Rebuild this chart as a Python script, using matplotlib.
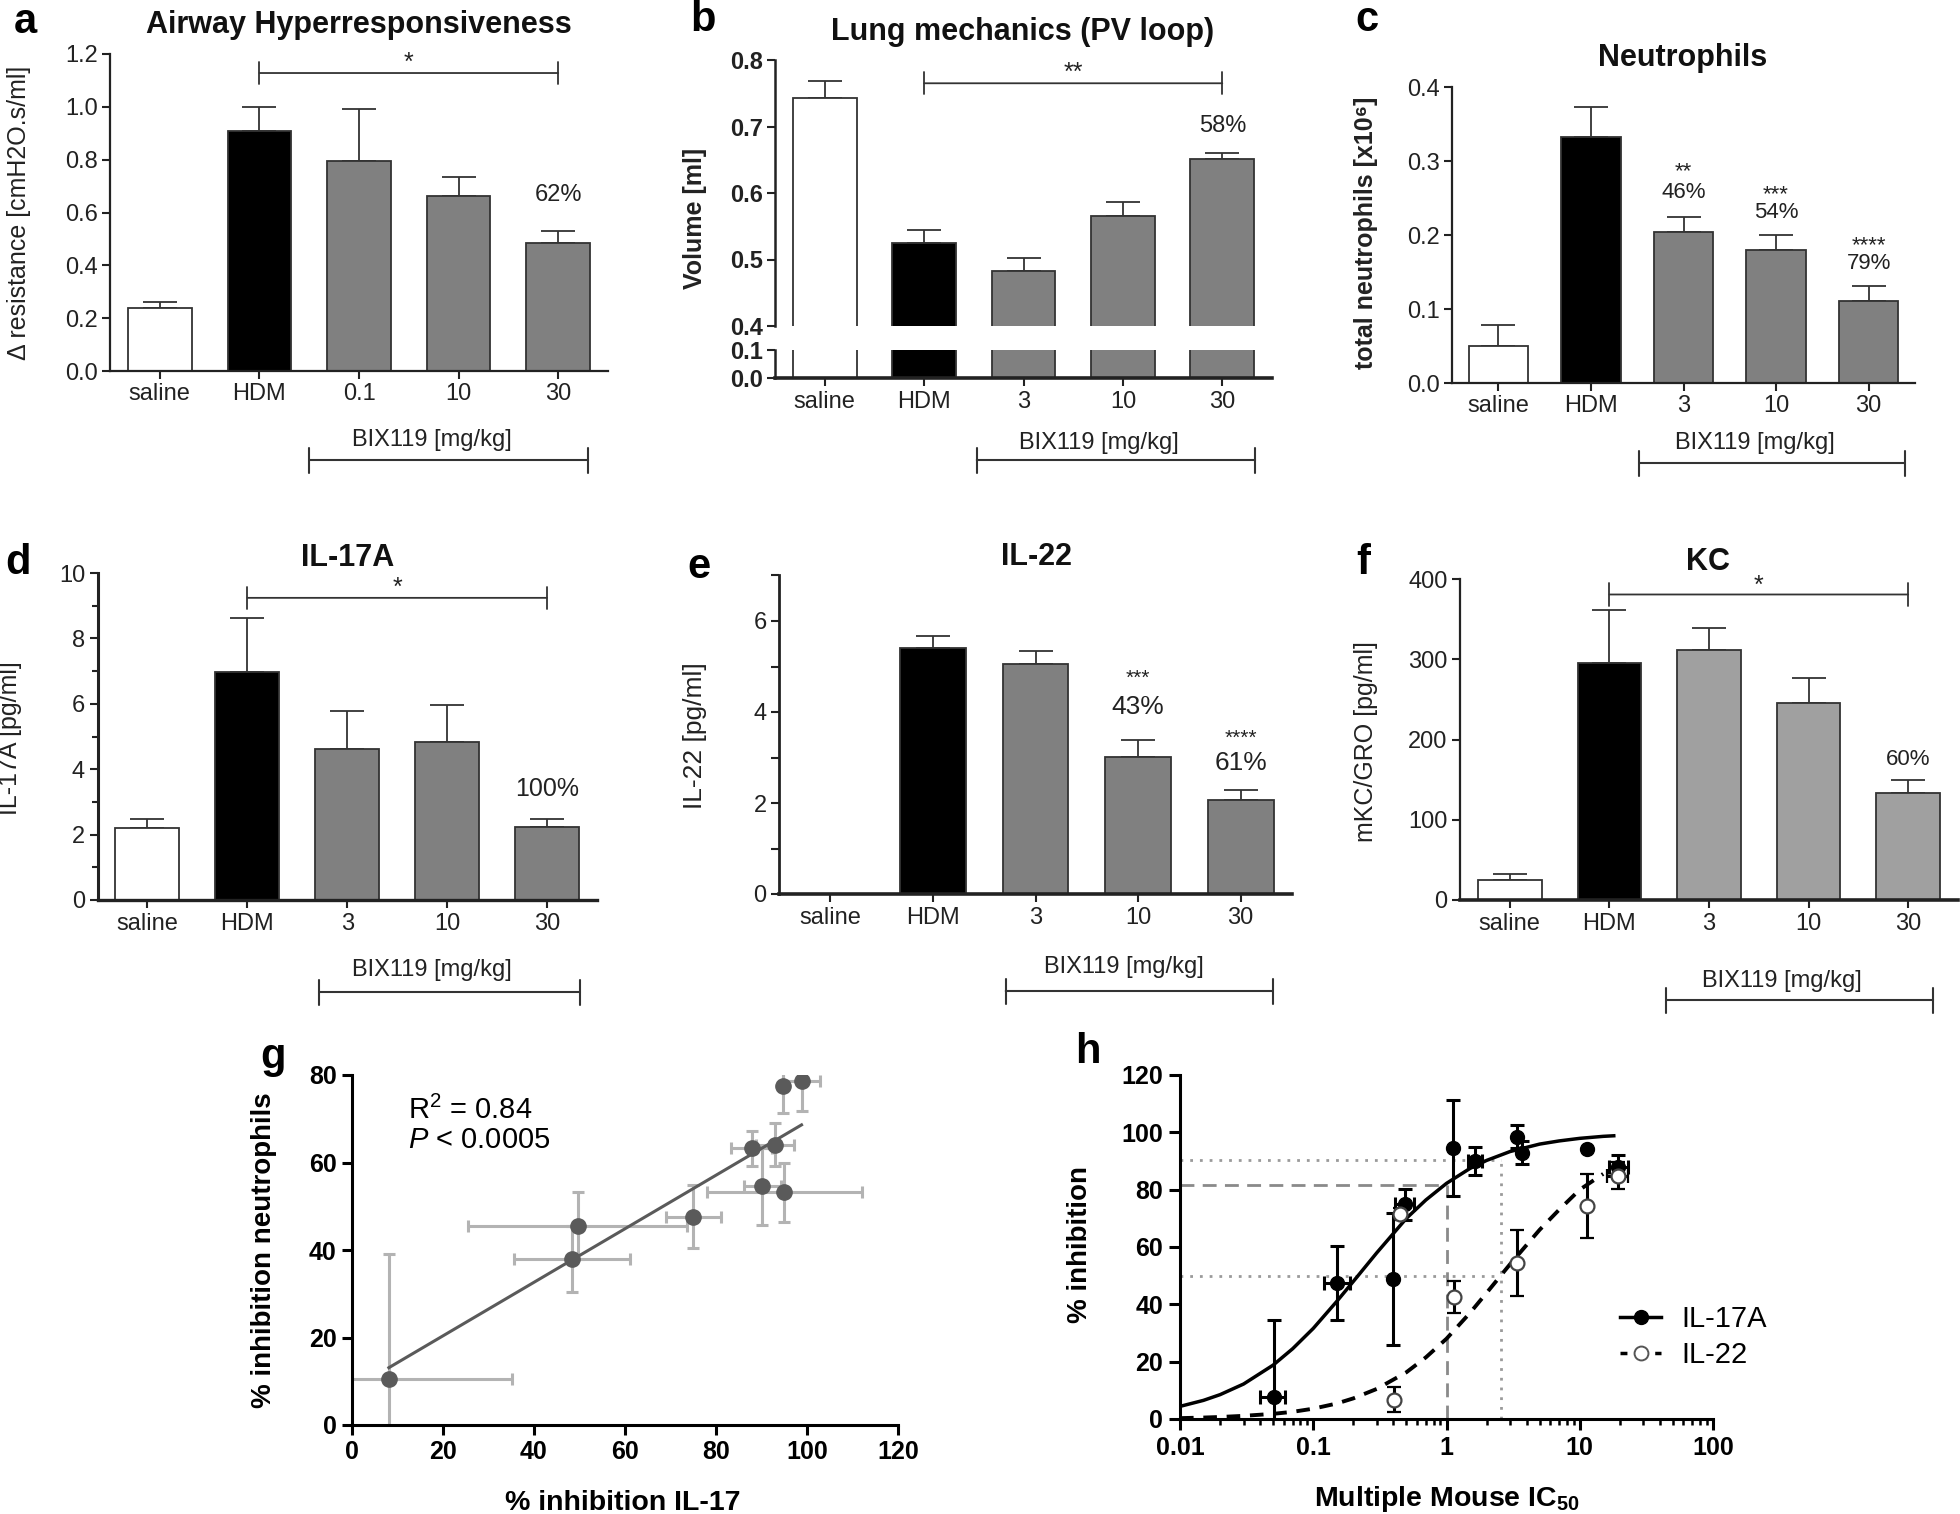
import numpy as np
import matplotlib
matplotlib.use('Agg')
import matplotlib.pyplot as plt
from matplotlib.transforms import blended_transform_factory
from matplotlib.lines import Line2D

plt.rcParams['font.family'] = ['Liberation Sans', 'DejaVu Sans']
plt.rcParams['mathtext.fontset'] = 'custom'
plt.rcParams['mathtext.rm'] = 'Liberation Sans'
plt.rcParams['mathtext.it'] = 'Liberation Sans:italic'
plt.rcParams['mathtext.bf'] = 'Liberation Sans:bold'
plt.rcParams['mathtext.default'] = 'regular'

# ---- data ----
groups_a = ['saline', 'HDM', '0.1', '10', '30']
groups = ['saline', 'HDM', '3', '10', '30']

ahr_mean = [0.237, 0.91, 0.796, 0.662, 0.485]
ahr_sem = [0.023, 0.088, 0.196, 0.074, 0.045]

pv_mean = [0.743, 0.525, 0.482, 0.565, 0.651]
pv_sem = [0.025, 0.019, 0.020, 0.021, 0.009]

neut_mean = [0.050, 0.332, 0.204, 0.180, 0.111]
neut_sem = [0.028, 0.041, 0.020, 0.020, 0.020]

il17_mean = [2.19, 6.98, 4.61, 4.84, 2.24]
il17_sem = [0.29, 1.63, 1.16, 1.11, 0.24]

il22_mean = [0.0, 5.40, 5.06, 3.01, 2.06]
il22_sem = [0.0, 0.27, 0.28, 0.38, 0.22]

kc_mean = [25, 295, 312, 246, 133]
kc_sem = [7, 66, 27, 31, 17]

# panel g: % inhibition IL-17 vs % inhibition neutrophils
inh_il17 = [8.1, 48.3, 49.6, 75.0, 87.9, 92.9, 90.2, 95.0, 94.8, 98.8]
inh_il17_err = [27, 12.8, 24, 6, 4.5, 4.2, 4, 17, 0, 4]
inh_neut = [10.6, 38.0, 45.6, 47.6, 63.3, 64.1, 54.6, 53.2, 77.4, 78.7]
inh_neut_err = [28.6, 7.5, 7.6, 7.2, 4, 5, 8.8, 6.8, 6, 7]
fit_x = [8.1, 98.8]
fit_y = [13.1, 68.6]

# panel h: % inhibition vs multiple of mouse IC50
il17a_x = [0.051, 0.151, 0.40, 0.486, 1.11, 1.64, 3.41, 3.70, 11.3, 19.3]
il17a_y = [7.7, 47.5, 48.7, 74.9, 94.6, 90.0, 98.4, 92.9, 94.3, 88.0]
il17a_yerr = [27, 13, 23, 5.5, 16.8, 5, 4, 4, 0, 4]
il17a_xlo = [0.040, 0.12, None, 0.41, None, 1.45, None, None, None, 16.5]
il17a_xhi = [0.061, 0.19, None, 0.57, None, 1.85, None, None, None, 23.0]

il22_x = [0.405, 0.45, 1.13, 3.41, 11.3, 19.3]
il22_y = [6.8, 71.5, 42.5, 54.5, 74.3, 84.8]
il22_yerr = [4.5, 2.0, 5.5, 11.6, 11, 4.7]
il22_xlo = [None, None, None, None, None, 16.0]
il22_xhi = [None, None, None, None, None, 23.0]

curve_x = [0.01, 0.015, 0.02, 0.03, 0.05, 0.07, 0.1, 0.15, 0.2, 0.3, 0.5, 0.7,
           1, 1.5, 2, 3, 5, 7, 10, 15, 18]
curve_il17a = [4.4, 6.5, 8.5, 12.2, 18.8, 24.5, 31.6, 41, 48, 58, 70, 76.4,
               82.2, 87.4, 90.2, 93.3, 95.9, 97, 97.9, 98.6, 98.8]
curve_il22 = [0.3, 0.5, 0.7, 1.1, 1.8, 2.5, 3.6, 5.4, 7.2, 10.5, 16.3, 21.5,
              28, 37, 44, 54, 66, 73, 80, 85.5, 87]

ic_dotted_x = 2.55
ic_dotted_levels = [90.5, 50]
ic_dashed_x = 1.0
ic_dashed_level = 81.5

W, H = 1960, 1514
fig = plt.figure(figsize=(W / 100, H / 100), dpi=100)
INK = '#222222'
EDGE = '#333333'
GRAY = '#808080'


def add_ax(l, t, r, b):
    return fig.add_axes([l / W, 1 - b / H, (r - l) / W, (b - t) / H])


def fig_text(x, y, s, **kw):
    fig.text(x / W, 1 - y / H, s, ha='center', va='center', **kw)


def draw_bars(ax, means, sems, colors, errors=True, edge=EDGE):
    x = np.arange(len(means))
    ax.bar(x, means, width=0.64, color=colors, edgecolor=edge, linewidth=1.3, zorder=2)
    if errors:
        m = np.array(sems) > 0
        ax.errorbar(x[m], np.array(means)[m], yerr=[np.zeros(m.sum()), np.array(sems)[m]],
                    fmt='none', ecolor=edge, elinewidth=1.3, capsize=12, capthick=1.3, zorder=1)
    ax.set_xlim(-0.5, 4.5)
    for s in ['top', 'right']:
        ax.spines[s].set_visible(False)
    ax.tick_params(direction='out', length=6, width=1.5, labelsize=17, pad=3,
                   color=INK, labelcolor=INK)


def style_spines(ax, left=1.6, bottom=1.6):
    ax.spines['left'].set_linewidth(left)
    ax.spines['bottom'].set_linewidth(bottom)
    ax.spines['left'].set_color(INK)
    ax.spines['bottom'].set_color(INK)


def bracket(ax, y, label, ty, x0=1, x1=4, size=18):
    ax.annotate('', xy=(x0, y), xytext=(x1, y),
                arrowprops=dict(arrowstyle='|-|, widthA=0.8, widthB=0.8', lw=1.3,
                                color=EDGE, shrinkA=0, shrinkB=0, mutation_scale=10))
    ax.text((x0 + x1) / 2, ty, label, ha='center', va='center', fontsize=size, color=INK)


def dose_label(ax, tx, ty, x0, x1, ly):
    tr = blended_transform_factory(ax.transData, fig.transFigure)
    ax.text(tx, 1 - ty / H, 'BIX119 [mg/kg]', transform=tr, ha='center', va='center',
            fontsize=17, color=INK)
    ax.annotate('', xy=(x0, 1 - ly / H), xycoords=tr, xytext=(x1, 1 - ly / H), textcoords=tr,
                annotation_clip=False,
                arrowprops=dict(arrowstyle='|-|, widthA=0.9, widthB=0.9', lw=1.5,
                                color=EDGE, shrinkA=0, shrinkB=0, mutation_scale=10))


def fmt_ticks(ax, ticks, fmt, weight='normal'):
    ax.set_yticks(ticks, [fmt.format(v) for v in ticks], fontweight=weight)


# ---- a: airway hyperresponsiveness ----
ax = add_ax(110, 54, 608, 371)
draw_bars(ax, ahr_mean, ahr_sem, ['white', 'black', GRAY, GRAY, GRAY])
ax.set_ylim(0, 1.2)
fmt_ticks(ax, np.arange(0, 1.21, 0.2), '{:.1f}')
ax.set_xticks(range(5), groups_a)
style_spines(ax)
ax.set_ylabel('Δ resistance [cmH2O.s/ml]', fontsize=18, color=INK)
ax.yaxis.set_label_coords(-0.159, 0.5)
bracket(ax, 1.128, '*', 1.168)
ax.text(4, 0.666, '62%', ha='center', va='center', fontsize=17, color=INK)
dose_label(ax, 2.73, 440, 1.5, 4.3, 460)

# ---- b: lung mechanics, broken axis ----
axb1 = add_ax(775, 60, 1272, 326)
axb2 = add_ax(775, 350, 1272, 378)
cols_b = ['white', 'black', GRAY, GRAY, GRAY]
for a_, err in ((axb1, True), (axb2, False)):
    draw_bars(a_, pv_mean, pv_sem, cols_b, errors=err)
axb1.set_ylim(0.4, 0.8)
axb2.set_ylim(0, 0.1)
fmt_ticks(axb1, [0.4, 0.5, 0.6, 0.7, 0.8], '{:.1f}', 'bold')
fmt_ticks(axb2, [0.0, 0.1], '{:.1f}', 'bold')
axb1.spines['bottom'].set_visible(False)
axb1.tick_params(axis='x', bottom=False, labelbottom=False)
axb2.set_xticks(range(5), groups)
style_spines(axb1, left=1.8)
style_spines(axb2, left=1.8, bottom=2.6)
axb1.set_ylabel('Volume [ml]', fontsize=18, fontweight='bold', color=INK)
axb1.yaxis.set_label_coords(-0.137, 0.406)
bracket(axb1, 0.765, '**', 0.780)
axb1.text(4, 0.70, '58%', ha='center', va='center', fontsize=17, color=INK)
dose_label(axb2, 2.76, 443, 1.53, 4.33, 460)

# ---- c: neutrophils ----
ax = add_ax(1452, 87, 1915, 383)
draw_bars(ax, neut_mean, neut_sem, ['white', 'black', GRAY, GRAY, GRAY])
ax.set_ylim(0, 0.4)
fmt_ticks(ax, np.arange(0, 0.41, 0.1), '{:.1f}')
ax.set_xticks(range(5), groups)
style_spines(ax)
ax.set_ylabel('total neutrophils [x10⁶]', fontsize=18, fontweight='bold', color=INK)
ax.yaxis.set_label_coords(-0.16, 0.507)
for xi, star, ys, pct, yp in [(2, '**', 0.285, '46%', 0.257),
                              (3, '***', 0.255, '54%', 0.230),
                              (4, '****', 0.185, '79%', 0.161)]:
    ax.text(xi, ys, star, ha='center', va='center', fontsize=16, color=INK)
    ax.text(xi, yp, pct, ha='center', va='center', fontsize=16, color=INK)
dose_label(ax, 2.77, 443, 1.52, 4.39, 463)

# ---- d: IL-17A ----
ax = add_ax(97.5, 573, 597, 900)
draw_bars(ax, il17_mean, il17_sem, ['white', 'black', GRAY, GRAY, GRAY])
ax.set_ylim(0, 10)
fmt_ticks(ax, np.arange(0, 11, 2), '{:.0f}')
ax.set_yticks(np.arange(1, 10, 2), minor=True)
ax.tick_params(axis='y', which='minor', length=4, width=1.5, color=INK)
ax.set_xticks(range(5), groups)
style_spines(ax, left=2.2, bottom=2.4)
ax.set_ylabel('IL-17A [pg/ml]', fontsize=18, color=INK)
ax.yaxis.set_label_coords(-0.152, 0.495)
bracket(ax, 9.24, '*', 9.55)
ax.text(4, 3.38, '100%', ha='center', va='center', fontsize=18, color=INK)
dose_label(ax, 2.85, 970, 1.72, 4.33, 992)

# ---- e: IL-22 ----
ax = add_ax(779, 575.5, 1292, 894)
draw_bars(ax, il22_mean, il22_sem, ['white', 'black', GRAY, GRAY, GRAY])
ax.set_ylim(0, 7)
fmt_ticks(ax, [0, 2, 4, 6], '{:.0f}')
ax.set_yticks([1, 3, 5, 7], minor=True)
ax.tick_params(axis='y', which='minor', length=6, width=1.5, color=INK)
ax.set_xticks(range(5), groups)
style_spines(ax, left=2.0, bottom=2.6)
ax.set_ylabel('IL-22 [pg/ml]', fontsize=19, color=INK)
ax.yaxis.set_label_coords(-0.14, 0.496)
for xi, star, ys, pct, yp in [(3, '***', 4.75, '43%', 4.12),
                              (4, '****', 3.43, '61%', 2.87)]:
    ax.text(xi, ys, star, ha='center', va='center', fontsize=15, color=INK)
    ax.text(xi, yp, pct, ha='center', va='center', fontsize=19, color=INK)
dose_label(ax, 2.86, 967, 1.71, 4.31, 991)

# ---- f: KC ----
ax = add_ax(1460, 579, 1958, 900)
draw_bars(ax, kc_mean, kc_sem, ['white', 'black', '#a0a0a0', '#a0a0a0', '#a0a0a0'])
ax.set_ylim(0, 400)
fmt_ticks(ax, np.arange(0, 401, 100), '{:.0f}')
ax.set_xticks(range(5), groups)
style_spines(ax, left=1.6, bottom=2.6)
ax.set_ylabel('mKC/GRO [pg/ml]', fontsize=18, color=INK)
ax.yaxis.set_label_coords(-0.165, 0.495)
bracket(ax, 380.7, '*', 392)
ax.text(4, 175, '60%', ha='center', va='center', fontsize=16, color=INK)
dose_label(ax, 2.73, 981, 1.57, 4.25, 1000)

# ---- g: correlation ----
ax = add_ax(352, 1075, 898, 1425)
ax.errorbar(inh_il17, inh_neut, xerr=inh_il17_err, yerr=inh_neut_err, fmt='none',
            ecolor='#b3b3b3', elinewidth=2.2, capsize=4.5, capthick=2.2, zorder=1)
ax.plot(fit_x, fit_y, color='#5a5a5a', lw=2.2, zorder=2)
ax.plot(inh_il17, inh_neut, 'o', color='#5a5a5a', ms=11, zorder=3)
ax.set_xlim(0, 120)
ax.set_ylim(0, 80)
ax.set_xticks(np.arange(0, 121, 20))
ax.set_yticks(np.arange(0, 81, 20))
for s in ['top', 'right']:
    ax.spines[s].set_visible(False)
style_spines(ax, 2.2, 2.2)
ax.spines['left'].set_color('black')
ax.spines['bottom'].set_color('black')
ax.tick_params(direction='out', length=7, width=2.2, labelsize=18, pad=4)
for lab in ax.get_xticklabels() + ax.get_yticklabels():
    lab.set_fontweight('bold')
ax.set_xlabel('% inhibition IL-17', fontsize=20.5, fontweight='bold')
ax.xaxis.set_label_coords(0.496, -0.185)
ax.set_ylabel('% inhibition neutrophils', fontsize=20, fontweight='bold')
ax.yaxis.set_label_coords(-0.137, 0.5)
ax.text(12.3, 72, 'R$^2$ = 0.84', fontsize=21, ha='left', va='center')
ax.text(12.3, 65.2, r'$\mathit{P}$ < 0.0005', fontsize=21, ha='left', va='center')

# ---- h: dose-response ----
ax = add_ax(1180, 1075, 1713, 1419)
ax.set_xscale('log')
ax.set_xlim(0.01, 100)
ax.set_ylim(0, 120)
for lvl in ic_dotted_levels:
    ax.plot([0.01, ic_dotted_x], [lvl, lvl], color='#9a9a9a', lw=2, ls=(0, (1, 2.5)), zorder=1)
ax.plot([ic_dotted_x, ic_dotted_x], [0, max(ic_dotted_levels)], color='#9a9a9a', lw=2,
        ls=(0, (1, 2.5)), zorder=1)
ax.plot([0.01, ic_dashed_x], [ic_dashed_level, ic_dashed_level], color='#8a8a8a', lw=2,
        ls=(0, (5, 3)), zorder=1)
ax.plot([ic_dashed_x, ic_dashed_x], [0, ic_dashed_level], color='#8a8a8a', lw=2,
        ls=(0, (5, 3)), zorder=1)
ax.plot(curve_x, curve_il17a, color='black', lw=2.5, zorder=2)
ax.plot(curve_x[:-1], curve_il22[:-1], color='black', lw=2.8, ls=(0, (3.5, 2.5)), zorder=2)


def xerr_from(xs, lo, hi):
    return [[x - l if l else 0 for x, l in zip(xs, lo)],
            [h - x if h else 0 for x, h in zip(xs, hi)]]


ax.errorbar(il17a_x, il17a_y, yerr=il17a_yerr, xerr=xerr_from(il17a_x, il17a_xlo, il17a_xhi),
            fmt='o', ms=10, color='black', mfc='black', elinewidth=2.2, capsize=5,
            capthick=2.2, zorder=3)
ax.errorbar(il22_x, il22_y, yerr=il22_yerr, xerr=xerr_from(il22_x, il22_xlo, il22_xhi),
            fmt='o', ms=10, color='black', mfc='white', mec='#444444', mew=1.6,
            elinewidth=2.2, capsize=5, capthick=2.2, zorder=4)
for s in ['top', 'right']:
    ax.spines[s].set_visible(False)
style_spines(ax, 2.2, 2.2)
ax.spines['left'].set_color('black')
ax.spines['bottom'].set_color('black')
ax.set_yticks(np.arange(0, 121, 20))
ax.set_xticks([0.01, 0.1, 1, 10, 100], ['0.01', '0.1', '1', '10', '100'])
ax.tick_params(direction='out', length=8, width=2.2, labelsize=18, pad=4)
ax.tick_params(which='minor', direction='out', length=4.5, width=1.8)
for lab in ax.get_xticklabels() + ax.get_yticklabels():
    lab.set_fontweight('bold')
ax.set_xlabel(r'Multiple Mouse IC$_{\mathbf{50}}$', fontsize=20.5, fontweight='bold')
ax.xaxis.set_label_coords(0.5, -0.19)
ax.set_ylabel('% inhibition', fontsize=20, fontweight='bold')
ax.yaxis.set_label_coords(-0.163, 0.506)
handles = [Line2D([], [], color='black', lw=2.5, marker='o', ms=10, mfc='black'),
           Line2D([], [], color='black', lw=2.5, ls=(0, (2, 3)), marker='o', ms=10,
                  mfc='white', mec='#555555', mew=1.4)]
ax.legend(handles, ['IL-17A', 'IL-22'], loc='center left', bbox_to_anchor=(0.826, 0.238),
          frameon=False, fontsize=21, handlelength=1.4, handletextpad=0.7,
          labelspacing=0.25, borderpad=0, borderaxespad=0)

# ---- titles and panel letters ----
for x, y, t in [(359, 25, 'Airway Hyperresponsiveness'), (1023, 32, 'Lung mechanics (PV loop)'),
                (1683, 58, 'Neutrophils'), (348, 558, 'IL-17A'), (1036, 557, 'IL-22'),
                (1708, 562, 'KC')]:
    fig_text(x, y, t, fontsize=22, fontweight='bold', color='#111111')
for x, y, t in [(25, 22, 'a'), (703, 20, 'b'), (1367, 20, 'c'), (18, 563, 'd'),
                (699, 567, 'e'), (1363, 563, 'f'), (273, 1057, 'g'), (1088, 1052, 'h')]:
    fig_text(x, y, t, fontsize=30, fontweight='bold', color='black')

fig.savefig('out.png', dpi=100, facecolor='white')
